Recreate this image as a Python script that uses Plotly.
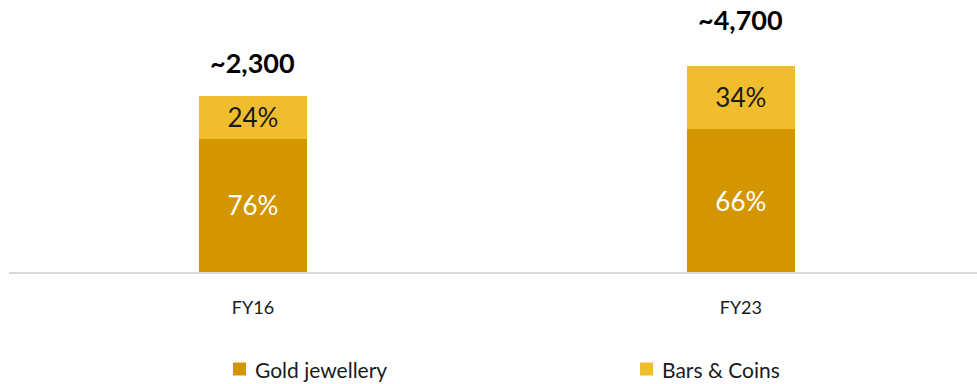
import plotly.graph_objects as go

categories = ["FY16", "FY23"]
jewellery = [76.0, 81.3]          # bar heights (relative units)
bars_coins = [24.0, 36.2]
jewellery_pct = ["76%", "66%"]
bars_pct = ["24%", "34%"]
totals = ["~2,300", "~4,700"]
series_names = ["Gold jewellery", "Bars & Coins"]

FONT = "Lato"
C_JEW = "#D39600"
C_BAR = "#F0BD2F"

fig = go.Figure()
fig.add_trace(go.Bar(
    x=categories, y=jewellery, name=series_names[0],
    marker=dict(color=C_JEW, line=dict(width=0)),
    text=jewellery_pct, textposition="inside", insidetextanchor="middle",
    textfont=dict(family=FONT, size=26, color="white"),
    width=0.221,
))
fig.add_trace(go.Bar(
    x=categories, y=bars_coins, name=series_names[1],
    marker=dict(color=C_BAR, line=dict(width=0)),
    text=bars_pct, textposition="inside", insidetextanchor="middle",
    textfont=dict(family=FONT, size=26, color="#1a1a1a"),
    width=0.221,
))

label_shift = [15, 28]
for i, c in enumerate(categories):
    fig.add_annotation(
        x=c, y=jewellery[i] + bars_coins[i], text="<b>%s</b>" % totals[i],
        showarrow=False, yanchor="bottom", yshift=label_shift[i],
        font=dict(family=FONT, size=27, color="black"),
    )

# manual legend (paper coordinates in pixels)
W, H = 977, 384
legend_x = [233, 640]
legend_y = 369
for name, col, lx in zip(series_names, [C_JEW, C_BAR], legend_x):
    fig.add_shape(type="rect", xref="paper", yref="paper",
                  x0=(lx - 9) / (W - 9), x1=(lx + 4) / (W - 9),
                  y0=-(legend_y + 6.5 - 272) / 272, y1=-(legend_y - 6.5 - 272) / 272,
                  fillcolor=col, line=dict(width=0))
    fig.add_annotation(xref="paper", yref="paper",
                       x=(lx + 11) / (W - 9), y=-(legend_y - 272) / 272,
                       xanchor="left", yanchor="middle", showarrow=False,
                       text=name, font=dict(family=FONT, size=21, color="#1a1a1a"))

fig.update_layout(
    width=W, height=H,
    margin=dict(l=9, r=0, t=0, b=112, autoexpand=False),
    barmode="stack",
    plot_bgcolor="white", paper_bgcolor="white",
    showlegend=False,
    xaxis=dict(
        range=[-0.5, 1.484], showline=True, linecolor="#d9d9d9", linewidth=1.5,
        ticks="", showgrid=False, zeroline=False, ticklabelstandoff=19,
        tickfont=dict(family=FONT, size=18, color="#1a1a1a"),
    ),
    yaxis=dict(range=[0, 154.9], visible=False, showgrid=False, zeroline=False),
)

fig.write_html("out.html")
